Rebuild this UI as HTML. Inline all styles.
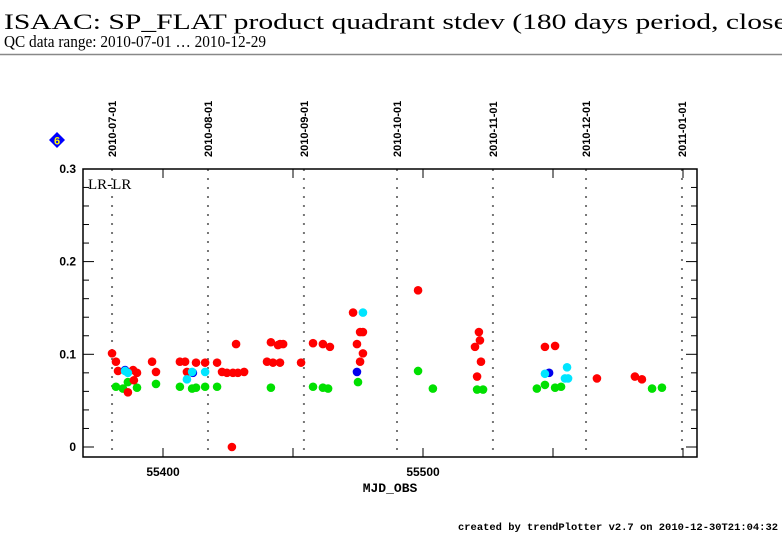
<!DOCTYPE html>
<html><head><meta charset="utf-8"><style>
body{margin:0;background:#fff;width:782px;height:542px;overflow:hidden}
svg{display:block}
</style></head><body>
<svg id="chart" width="782" height="542" xmlns="http://www.w3.org/2000/svg">
<text x="4" y="29" font-family="Liberation Serif, serif" font-size="22" textLength="832" lengthAdjust="spacingAndGlyphs">ISAAC: SP_FLAT product quadrant stdev (180 days period, close-up)</text>
<text x="4" y="0" transform="translate(0,47) scale(1,1.15)" font-family="Liberation Serif, serif" font-size="15" textLength="262" lengthAdjust="spacingAndGlyphs">QC data range: 2010-07-01 … 2010-12-29</text>
<line x1="0" y1="54.5" x2="782" y2="54.5" stroke="#888" stroke-width="1.5"/>
<g><polygon points="57,132 65,140 57,148 49,140" fill="#0000ff"/><text x="57" y="144.5" text-anchor="middle" font-family="Liberation Sans, sans-serif" font-size="11" font-weight="bold" fill="#ffff00">6</text></g>
<g id="grid"></g><g id="axes"></g><g id="marks"></g>
<text x="88" y="189" font-family="Liberation Serif, serif" font-size="15">LR-LR</text>
<text x="390" y="492" text-anchor="middle" font-family="Liberation Mono, monospace" font-size="13" font-weight="bold">MJD_OBS</text>
<text x="458" y="530" font-family="Liberation Mono, monospace" font-size="10.5" font-weight="bold" textLength="320" lengthAdjust="spacingAndGlyphs">created by trendPlotter v2.7 on 2010-12-30T21:04:32</text>
</svg>
<script>
const dateLabels=["2010-07-01","2010-08-01","2010-09-01","2010-10-01","2010-11-01","2010-12-01","2011-01-01"];
const dateMjd=[55380.4,55417.3,55454.2,55490.0,55526.9,55562.7,55599.6];
const xTicks=[55400,55500];
const yTicks=[0,0.1,0.2,0.3];
const redX=[55380.4,55381.9,55382.7,55388.5,55390.0,55388.8,55386.5,55395.8,55397.3,55406.5,55408.5,55409.2,55412.7,55416.2,55420.8,55422.7,55424.6,55426.9,55428.8,55431.2,55426.5,55428.1,55441.5,55444.2,55440.0,55442.3,55445.0,55446.2,55445.0,55453.1,55457.7,55461.5,55464.2,55473.1,55475.8,55476.9,55474.6,55476.9,55475.8,55498.1,55521.5,55521.9,55520.0,55522.3,55520.8,55546.9,55550.8,55566.9,55581.5,55584.2];
const redY=[0.101,0.092,0.082,0.083,0.080,0.072,0.059,0.092,0.081,0.092,0.092,0.081,0.091,0.091,0.091,0.081,0.080,0.080,0.080,0.081,0.000,0.111,0.113,0.110,0.092,0.091,0.111,0.111,0.091,0.091,0.112,0.111,0.108,0.145,0.124,0.124,0.111,0.101,0.092,0.169,0.124,0.115,0.108,0.092,0.076,0.108,0.109,0.074,0.076,0.073];
const greenX=[55381.9,55384.6,55386.5,55390.0,55397.3,55406.5,55411.2,55412.7,55416.2,55420.8,55441.5,55457.7,55461.5,55463.5,55475.0,55498.1,55503.8,55520.8,55523.1,55543.8,55546.9,55550.8,55553.1,55588.1,55591.9];
const greenY=[0.065,0.063,0.070,0.064,0.068,0.065,0.063,0.064,0.065,0.065,0.064,0.065,0.064,0.063,0.070,0.082,0.063,0.062,0.062,0.063,0.067,0.064,0.065,0.063,0.064];
const blueX=[55385.4,55411.5,55474.6,55548.5];
const blueY=[0.083,0.080,0.081,0.080];
const cyanX=[55385.4,55386.5,55409.2,55411.2,55416.2,55476.9,55546.9,55555.4,55554.6,55555.8];
const cyanY=[0.082,0.080,0.073,0.081,0.081,0.145,0.079,0.086,0.074,0.074];

const L=83,R=697,T=169,B=457;
const xs=m=>163+(m-55400)*2.6;
const ys=v=>447-v*927;
const NS="http://www.w3.org/2000/svg";
function mk(tag,attrs,parent){const e=document.createElementNS(NS,tag);for(const k in attrs)e.setAttribute(k,attrs[k]);parent.appendChild(e);return e;}
const grid=document.getElementById('grid'),axes=document.getElementById('axes'),marks=document.getElementById('marks');

dateMjd.forEach((m,i)=>{
  const x=xs(m);
  const ln=mk('line',{x1:x,y1:T,x2:x,y2:B,stroke:'#777','stroke-width':2,'stroke-dasharray':'2,7'},grid);
  
  
  const t=mk('text',{x:0,y:0,transform:`translate(${x+4},157) rotate(-90)`,'font-family':'Liberation Sans, sans-serif','font-size':'11','font-weight':'bold'},grid);
  t.textContent=dateLabels[i];
  
  
});

const fr=mk('rect',{x:L,y:T,width:R-L,height:B-T,fill:'none',stroke:'#000','stroke-width':1.5},axes);


for(let k=0;k<=15;k++){
  const v=k*0.02,y=ys(v);if(y<T)continue;
  const len=(k%5===0)?11:6;
  mk('line',{x1:L,y1:y,x2:L+len,y2:y,stroke:'#000','stroke-width':1},axes);
  mk('line',{x1:R,y1:y,x2:R-len,y2:y,stroke:'#000','stroke-width':1},axes);
}
yTicks.forEach(v=>{
  const t=mk('text',{x:L-7,y:ys(v)+4,'text-anchor':'end','font-family':'Liberation Sans, sans-serif','font-size':'12','font-weight':'bold'},axes);
  t.textContent=v===0?'0':String(v);
  
  
});
for(let m=55400;m<=55600;m+=50){
  const x=xs(m);
  mk('line',{x1:x,y1:B,x2:x,y2:B-9,stroke:'#000','stroke-width':1},axes);
  mk('line',{x1:x,y1:T,x2:x,y2:T+9,stroke:'#000','stroke-width':1},axes);
}
xTicks.forEach(m=>{
  const t=mk('text',{x:xs(m),y:476,'text-anchor':'middle','font-family':'Liberation Sans, sans-serif','font-size':'12','font-weight':'bold'},axes);
  t.textContent=String(m);
  
  
});

function series(X,Y,color,name){
  X.forEach((m,i)=>{
    const c=mk('circle',{cx:xs(m),cy:ys(Y[i]),r:4.3,fill:color},marks);
    
    
  });
}
series(greenX,greenY,'#00e000','point-green');
series(redX,redY,'#ff0000','point-red');
series(blueX,blueY,'#0000ee','point-blue');
series(cyanX,cyanY,'#00e5ff','point-cyan');
</script>
</body></html>
